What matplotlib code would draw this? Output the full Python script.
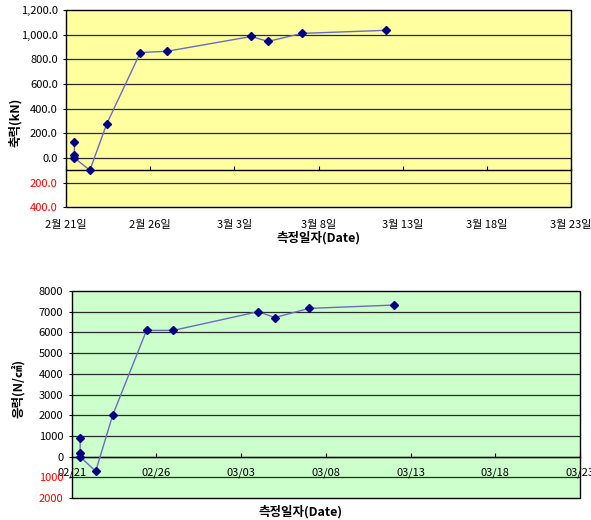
import matplotlib
matplotlib.use("Agg")
import matplotlib.pyplot as plt
import matplotlib.dates as mdates
from matplotlib.patches import Rectangle
from matplotlib.ticker import FuncFormatter, FixedLocator
import numpy as np
import pandas as pd

plt.rcParams['font.family'] = ['Noto Sans CJK KR', 'DejaVu Sans']

# measurement dates
dates = pd.to_datetime([
    '2007-02-21 12:00', '2007-02-21 12:00', '2007-02-21 12:00',
    '2007-02-22 10:00', '2007-02-23 10:00', '2007-02-25 10:00',
    '2007-02-27 00:00', '2007-03-04 00:00', '2007-03-05 00:00',
    '2007-03-07 00:00', '2007-03-12 00:00',
])
# axial force (kN)
force_kn = [130, 20, 0, -100, 275, 855, 865, 985, 945, 1010, 1035]
# stress (N/cm2)
stress = [900, 170, 0, -700, 2000, 6100, 6100, 7000, 6720, 7160, 7320]

x_ticks = pd.date_range('2007-02-21', '2007-03-23', freq='5D')
top_yticks = [-400, -200, 0, 200, 400, 600, 800, 1000, 1200]
bot_yticks = [-2000, -1000, 0, 1000, 2000, 3000, 4000, 5000, 6000, 7000, 8000]

xnum = mdates.date2num(dates)
tick_num = mdates.date2num(x_ticks)

LINE = '#6b6bc4'
MARK = '#000080'
GRID = '#2a2a2a'

fig = plt.figure(figsize=(5.91, 5.2), dpi=100)


def style_axes(ax, bg, yticks, cross, fmt_y):
    ax.set_facecolor(bg)
    ax.set_xlim(tick_num[0], tick_num[-1])
    ax.set_ylim(yticks[0], yticks[-1])
    for y in yticks[1:-1]:
        ax.axhline(y, color=GRID, lw=0.9, zorder=1)
    # plot-area frame
    ax.add_patch(Rectangle((0, 0), 1, 1, transform=ax.transAxes, fill=False,
                           edgecolor='black', lw=1.0, zorder=5, clip_on=False))
    for s in ['top', 'right', 'left']:
        ax.spines[s].set_visible(False)
    ax.spines['bottom'].set_position(('data', cross))
    ax.spines['bottom'].set_linewidth(1.0)
    ax.xaxis.set_major_locator(FixedLocator(tick_num))
    ax.tick_params(axis='x', direction='in', length=3, width=0.8)
    ax.yaxis.set_major_locator(FixedLocator(yticks))
    ax.tick_params(axis='y', length=2, width=0.8, labelsize=8, pad=4)
    ax.yaxis.set_major_formatter(FuncFormatter(fmt_y))


def fmt_top(v, pos):
    return f"{abs(v):,.1f}"


def fmt_bot(v, pos):
    return f"{abs(int(v))}"


# ---- axial force chart ----
ax1 = fig.add_axes([0.1117, 0.6015, 0.8545, 0.3793])
style_axes(ax1, '#ffffa0', top_yticks, -100, fmt_top)
ax1.tick_params(axis='x', labelbottom=False)
ax1.plot(xnum, force_kn, color=LINE, lw=1.0, zorder=3)
ax1.plot(xnum, force_kn, ls='none', marker='D', ms=4.5, color=MARK, zorder=4)
for lab, v in zip(ax1.get_yticklabels(), top_yticks):
    lab.set_color('red' if v < 0 else 'black')
for t, d in zip(tick_num, x_ticks):
    ax1.text(t, -0.09, f"{d.month}월 {d.day}일", transform=ax1.get_xaxis_transform(),
             ha='center', va='center', fontsize=8)
ax1.text(0.5, -0.155, '측정일자(Date)', transform=ax1.transAxes, ha='center',
         va='center', fontsize=9, fontweight='bold')
ax1.text(-0.1, 0.43, '축력(kN)', transform=ax1.transAxes, rotation=90,
         ha='center', va='center', fontsize=9, fontweight='bold')

# ---- stress chart ----
ax2 = fig.add_axes([0.1213, 0.0419, 0.8600, 0.3985])
style_axes(ax2, '#ccffcc', bot_yticks, 0, fmt_bot)
ax2.xaxis.set_major_formatter(FuncFormatter(
    lambda v, pos: mdates.num2date(v).strftime('%m/%d')))
ax2.tick_params(axis='x', labelsize=8, pad=8)
ax2.plot(xnum, stress, color=LINE, lw=1.0, zorder=3)
ax2.plot(xnum, stress, ls='none', marker='D', ms=4.5, color=MARK, zorder=4)
for lab, v in zip(ax2.get_yticklabels(), bot_yticks):
    lab.set_color('red' if v < 0 else 'black')
ax2.text(0.45, -0.065, '측정일자(Date)', transform=ax2.transAxes, ha='center',
         va='center', fontsize=9, fontweight='bold')
ax2.text(-0.105, 0.53, '응력(N/㎠)', transform=ax2.transAxes, rotation=90,
         ha='center', va='center', fontsize=9, fontweight='bold')

fig.savefig('out.png', dpi=100)
